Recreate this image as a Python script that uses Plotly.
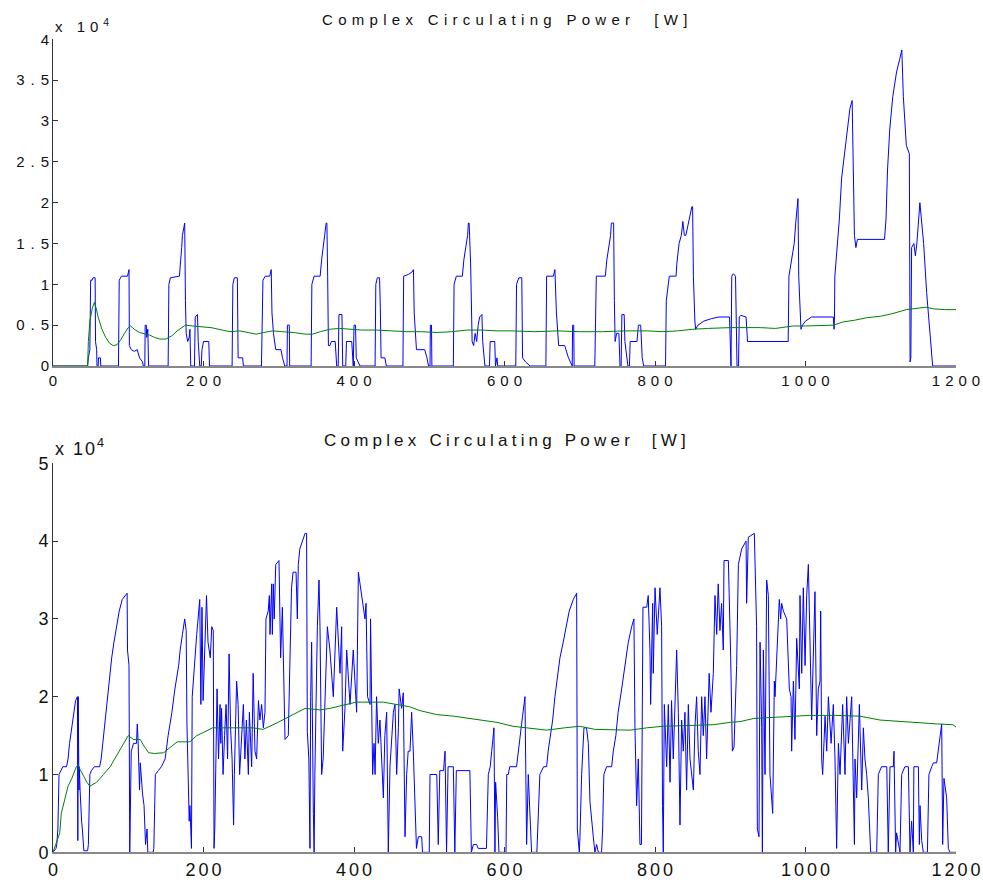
import plotly.graph_objects as go

# ---- data (power in units of 10^4 W, time in s) ----
top_power = [(0,0),(46,0),(47,0.1),(49,0.2),(50,1.05),(52,1.05),(53,1.08),(56,1.08),(56.5,0.3),(58,0.2),(58.5,0),(60,0),(60.5,0.1),(63,0.1),(63.5,0),
 (87,0),(88,1.05),(91,1.1),(99,1.1),(101,1.18),(101.5,0.25),(104,0.2),(108,0.18),(112,0.2),(115,0.1),(119,0.05),(120,0),(122,0),(122.5,0.5),(124,0.5),(124.5,0.35),(126,0.45),(127,0),
 (153,0),(154,1.0),(156,1.08),(168,1.1),(170,1.3),(171,1.45),(172,1.6),(174,1.75),(175,1.75),(176,0.8),(177,0.4),(179,0.3),(181,0.35),(182,0.45),(183,0),(188,0),(189,0.6),(192,0.63),(193,0.3),(195,0),(197,0),(198,0.2),(200,0.3),(207,0.3),(208,0),
 (238,0),(239,1.0),(241,1.08),(245,1.08),(246,0.1),(252,0.1),(253,0),(277,0),(279,1.05),(282,1.1),(288,1.1),(290,1.18),(291,0.65),(293,0.4),(296,0.2),(303,0.2),(305,0.1),(308,0),(311,0),(311.5,0.5),(314,0.5),(314.5,0),
 (343,0),(344,1.0),(347,1.1),(355,1.1),(357,1.3),(359,1.5),(361,1.6),(363,1.75),(364,1.75),(365,1.1),(366,0.25),(368,0.25),(370,0.3),(375,0.3),(377,0),(379,0),(380,0.63),(384,0.63),(385,0),(389,0),(390,0.3),(397,0.3),(398,0),(399,0),(400,0.5),(402,0.5),(403,0.1),(408,0),
 (428,0),(429,1.0),(431,1.08),(434,1.08),(435,0.7),(436,0.1),(441,0.1),(443,0),(465,0),(466,1.1),(472,1.12),(477,1.15),(479,1.18),(480,0.65),(483,0.2),(494,0.2),(497,0.1),(499,0),(501,0),(501.5,0.5),(503,0.5),(503.5,0),
 (532,0),(533,1.0),(536,1.1),(544,1.1),(546,1.3),(549,1.45),(551,1.6),(552,1.75),(553,1.75),(555,1.25),(557,0.3),(559,0.25),(561,0.4),(563,0.3),(565,0.5),(567,0.6),(570,0.63),(571,0.3),(574,0),(580,0),(581,0.3),(587,0.3),(588,0),(590,0.1),(591,0),
 (615,0),(616,1.0),(619,1.08),(623,1.08),(624,0.1),(628,0.05),(634,0),(655,0),(656,1.1),(665,1.1),(667,1.18),(669,0.65),(672,0.25),(680,0.25),(685,0.1),(689,0),(690,0),(690.5,0.5),(692,0.5),(692.5,0),
 (720,0),(722,1.1),(734,1.1),(736,1.3),(739,1.5),(741,1.6),(742,1.75),(745,1.75),(746,0.8),(747,0.3),(749,0.4),(752,0.4),(753.5,0),(755,0),(756,0.63),(759,0.63),(760,0.3),(764,0),(766,0),(767,0.3),(776,0.3),(778,0.5),(781,0.5),(783,0.1),(785,0),
 (814,0),(815,0.8),(819,1.1),(828,1.1),(829,1.25),(832,1.5),(835,1.6),(837,1.77),(839,1.6),(841,1.6),(845,1.8),(849,1.95),(850,1.95),(851,1.1),(853,0.55),(854,0.45),(857,0.5),(865,0.55),(875,0.58),(885,0.6),(899,0.6),(900,0),(901,0),(902,1.1),(904,1.13),(907,1.1),(908,0.2),(909,0),(911,0),(912,0.6),(914,0.62),(921,0.6),(923,0.3),
 (977,0.3),(978,1.1),(982,1.3),(985,1.5),(987,1.75),(989,1.95),(990,2.05),(991,1.1),(994,0.45),(996,0.5),(1000,0.55),(1008,0.6),(1037,0.6),(1038,0.45),(1038.5,0.6),(1039,1.1),(1042,1.4),(1045,1.8),(1048,2.3),(1052,2.6),(1056,2.9),(1059,3.15),(1062,3.25),(1063,2.6),(1065,1.6),(1067,1.45),(1069,1.55),
 (1105,1.55),(1107,1.8),(1109,2.4),(1112,2.9),(1116,3.3),(1121,3.6),(1125,3.75),(1128,3.87),(1130,3.3),(1134,2.7),(1138,2.6),(1139,0.05),(1140,0.1),(1141,1.45),(1144,1.5),(1146,1.35),(1148,1.5),(1152,2.0),(1154,1.8),(1157,1.5),(1161,0.9),(1165,0.5),(1169,0),(1200,0)]

top_mean = [(0,0),(46,0),(47,0.3),(49,0.55),(52,0.7),(55,0.78),(57,0.72),(60,0.6),(65,0.45),(70,0.35),(75,0.28),(80,0.25),(85,0.26),(90,0.32),(95,0.4),(100,0.47),(103,0.49),(108,0.45),(115,0.41),(120,0.4),(128,0.38),(135,0.35),(142,0.33),(150,0.33),(158,0.37),(165,0.43),(172,0.48),(176,0.5),(185,0.49),(195,0.48),(210,0.47),(225,0.44),(235,0.42),(248,0.43),(260,0.41),(270,0.39),(280,0.41),(292,0.43),(305,0.42),(320,0.41),(335,0.39),(345,0.39),(355,0.42),(368,0.45),(381,0.46),(395,0.45),(410,0.44),(430,0.44),(450,0.43),(470,0.42),(490,0.42),(510,0.41),(530,0.42),(550,0.44),(570,0.44),(590,0.43),(610,0.43),(640,0.42),(670,0.43),(700,0.42),(730,0.42),(760,0.43),(790,0.43),(810,0.42),(830,0.43),(850,0.45),(870,0.46),(900,0.47),(940,0.47),(960,0.46),(984,0.49),(1000,0.49),(1037,0.5),(1050,0.54),(1065,0.56),(1081,0.59),(1100,0.61),(1115,0.64),(1134,0.69),(1150,0.71),(1160,0.72),(1170,0.7),(1185,0.69),(1200,0.69)]

bot_power = [(0,0),(4,0.05),(5,0.1),(6.5,0.3),(8,1.0),(11,1.05),(13,1.1),(18,1.1),(20,1.2),(22,1.4),(25,1.6),(27,1.75),(30,1.95),(32.5,2.0),(33,0.15),(33.5,2.0),(34.5,0.8),(35,1.1),(36,0.8),(37,0.5),(38,0.4),(39,0.3),(41,0.02),(46,0.02),(47,0.1),(49,1.0),(51,1.05),(55,1.1),(62,1.1),(64,1.2),(67,1.5),(70,1.8),(72,2.0),(76,2.3),(78,2.5),(81,2.7),(84,2.9),(88,3.1),(92,3.25),(98.5,3.33),(99,2.6),(101,2.4),(102,0),(102.5,0.6),(104,1.3),(107,1.4),(111,1.4),(112,1.65),(113,1.45),(115,0.8),(116,1.15),(119,0.75),(121,0.6),(123,0.1),(125,0.3),(126,0),(133,0),(134,0.05),
 (136,1.0),(140,1.05),(144,1.1),(149,1.2),(153,1.5),(158,1.8),(162,2.1),(167,2.4),(169,2.6),(172,2.8),(175,3.0),(177,2.85),(178,1.65),(181,0.4),(182,0.6),(184,0.05),(185,2.0),(191,2.8),(195,3.25),(196.5,1.9),(198,3.15),(199.5,1.95),(204,3.3),(206,2.7),(209,2.5),(211,2.9),(213,2.85),(214,0.05),(215,0.3),(218,2.1),(220,1.2),(222,1.9),(223,1.4),(224,1.85),(226,1.0),(228,1.5),(230,1.9),(232,1.2),(234,2.55),(236,1.6),(238,1.2),(240,0.35),(241,1.0),(244,2.2),(246,1.9),(248,1.0),
 (250.7,1.5),(253,1.9),(255,1.2),(257,1.7),(259.6,1.0),(261,1.8),(264,1.1),(266,2.3),(268.4,1.3),(270.6,1.2),(273,1.95),(275,1.7),(277.3,1.9),(279.5,1.6),(281.7,1.8),(283,3.0),(286,3.1),(287.5,3.3),(288.4,2.8),(290.6,3.45),(291.5,2.8),(292.8,3.45),(294,3.0),(296,3.7),(300.3,3.75),(302.5,2.5),(304.8,3.15),(307,1.8),(308.3,1.45),(312.7,1.5),(315,2.8),(317,3.4),(319,3.6),(323,3.6),(324.7,3.0),(326,3.7),(328,3.9),(331.8,4.0),(335,4.1),(337,4.1),(338,1.55),(340,1.2),(341.5,0.05),(342.4,2.0),(343.7,2.7),(346,0.5),(347,0),(348,1.0),(351.3,2.9),(353.5,3.5),(354.8,2.9),(357,1.0),(359,1.2),(364.6,2.9),(368,2.6),(372.5,2.0),(377,3.15),(381.4,2.3),(383.6,2.9),(385,1.3),(388,1.85),(390.3,2.6),(392.5,2.3),(394.7,1.9),(399,2.6),(403.5,1.8),(405.8,3.6),(410,3.3),(414.6,3.0),(416,3.2),(418,2.0),(421.3,1.9),(422,3.0),(424.8,1.0),(426.6,1.4),(428,1.0),(430,2.0),(432.3,1.4),(434.5,1.7),(439,0.7),(441,1.5),(443.4,1.8),(445.6,0),(447.8,1.1),(452.3,1.8),(454.5,1.9),(456.7,1.0),(459,1.6),(460,2.1),(463.3,1.85),(465.5,2.05),(467.8,0.2),(470,1.0),(472,1.3),(474.4,1.3),(476.6,1.8),(478.8,1.3),(483,0.05),(485.5,0.2),(490,0.2),(491,0),(500,0),(501,1.0),(510,1.0),(512,0.1),(514,1.05),(519,1.05),(521,1.3),(523,0),(525,1.1),(532,1.1),(534,0),(536,1.05),(554,1.05),(556,0),(558.6,0.1),(563,0.1),(565,0.05),(576,0.05),(578.5,1.0),(581,1.1),(583,1.3),(586,1.6),
 (587.3,0),(588.2,0.9),(590.9,0.45),(592.6,0),(602,0),(603,1.0),(605,1.0),(607,1.1),(616,1.1),(618.3,1.3),(621.4,1.6),(624,1.75),(627.2,2.0),(628.5,1.0),(629.4,0.1),(631.6,1.0),(633.8,0.5),(636,0),(643,0),(645,0.5),(647,1.0),(652,1.1),(656,1.1),(658,1.3),(661,1.5),(664,1.7),(667,2.0),(670,2.25),(673.7,2.5),(678,2.7),(681.7,2.9),(686,3.1),(691.4,3.25),(695.9,3.33),(696.8,0.3),(699.4,0),(700.3,0.2),(702.5,1.0),(705.6,1.6),(709,1.6),(711.4,1.4),(713.6,0.65),(718,0.2),(720.2,0),(722.4,0.1),(724.7,0),(729,0),(730.4,0.3),(732,1.0),(735.7,1.1),(742.4,1.1),(744.6,1.3),(748,1.5),(751,1.8),(755.7,2.1),(760,2.4),(764.5,2.7),(769,2.9),(772,3.0),(773.4,1.6),(775.6,0.6),(777.8,1.2),(780,0.1),(782,0.1),(783,3.0),(784,3.15),(789,3.15),(791,3.3),(793.3,2.6),(794.2,1.9),(796.9,3.2),(797.7,2.3),(800,3.4),(803,2.8),(806.6,3.4),(808.8,2.9),(810,0.6),(811,0),
 (812.4,1.9),(815.5,1.1),(817.7,1.9),(820,0.9),(822,1.95),(824.3,1.2),(828.8,2.6),(831,1.8),(833.2,0.35),(835.4,1.7),(837.6,1.3),(839.8,1.8),(842,0.8),(844.3,1.9),(846.5,1.2),(851,0.8),(853,1.6),(855.3,2.0),(857.5,1.3),(859.8,1.0),(862,2.0),(864.2,1.5),(866.4,2.0),(868.6,1.2),(872,2.3),(874.4,1.8),(877.5,2.3),(878.8,3.0),(879.7,3.3),(882,2.8),(884,3.45),(886.3,2.85),(888.5,3.2),(890.7,2.6),(891.7,3.75),(897.5,3.75),(899.7,3.0),(900.6,2.5),(902.8,1.3),(905,1.35),(908.5,2.4),(910.8,3.7),(915.2,3.9),(921,4.0),(921.8,3.2),(924,4.05),(932,4.1),(935,2.9),(936,0.3),(938.2,0.2),(939.6,2.7),(941.8,1.6),(942.7,0),(944,2.6),(946.2,1.0),(948.4,3.5),(950.6,3.3),(952.8,1.0),(956.4,0.5),(958.6,2.2),(959.5,2.0),(962.6,2.7),(965.2,3.25),(967,3.0),(968.3,3.2),(970.6,3.1),(975,3.0),(978.5,2.1),(980.8,2.0),(981.6,1.3),(983.9,2.2),(986,1.45),(988.3,2.75),(991.8,2.1),(992.7,3.3),(995,2.3),(997.1,3.4),(999.4,2.4),(1001.6,3.3),(1003.8,3.7),(1006,2.5),(1008.2,1.7),(1012.6,3.35),(1014.9,1.5),(1017,2.1),(1019.3,2.2),(1020.2,3.1),(1021.5,1.2),(1022.8,1.0),(1026,1.75),(1028.2,1.3),(1030.4,2.0),(1034,1.4),(1037,1.9),(1039.2,1.2),(1041.4,0.05),(1043.7,1.4),(1045.9,1.0),(1049.4,1.9),(1052.5,1.0),(1054.7,2.0),(1057,1.4),(1061.4,2.0),(1065,0.1),(1065.8,1.2),(1068,0.7),(1071.6,1.9),(1074.7,0.8),(1076.9,1.6),(1079,1.2),(1081.3,1.0),(1083.5,0.7),(1086.6,0),(1094.6,0),(1096.8,1.0),(1101,1.1),(1108,1.1),(1110,0),(1112.3,1.1),(1116.7,1.1),(1117.6,1.3),(1119.8,0),(1121,0.25),(1125.6,0),(1127.8,1.0),(1132,1.1),(1136.7,1.1),(1138.9,0),(1141,0.4),(1143.3,0),(1144,1.1),(1150,1.1),(1151.3,0.1),(1152.2,0.6),(1154.4,0.15),(1156.6,0),(1162,0),(1164,1.0),(1167.7,1.1),(1170,1.15),(1174.3,1.15),(1176.5,1.3),(1178.8,1.5),(1181,1.65),(1182.3,0.1),(1184,0.95),(1187.6,0.7),(1189.8,0.05),(1192,0),(1200,0)]

bot_mean = [(0,0),(4,0.1),(9,0.25),(11,0.5),(16,0.7),(20,0.85),(25,0.95),(31,1.1),(33,1.12),(35,1.08),(40,1.0),(45,0.9),(49,0.85),(58,0.9),(67,1.0),(76,1.1),(85,1.25),(94,1.4),(100,1.5),(107,1.45),(116,1.45),(120,1.38),(127,1.28),(135,1.27),(147,1.28),(156,1.35),(165,1.42),(182,1.42),(191,1.5),(202,1.55),(212,1.6),(240,1.6),(266,1.6),(279,1.58),(295,1.65),(315,1.75),(335,1.85),(355,1.83),(368,1.85),(381,1.88),(403,1.93),(439,1.93),(457,1.9),(474,1.87),(488,1.82),(510,1.77),(532,1.75),(567,1.7),(590,1.67),(611,1.62),(656,1.57),(680,1.6),(700,1.62),(720,1.58),(745,1.57),(767,1.57),(789,1.6),(811,1.62),(845,1.63),(877,1.64),(900,1.67),(913,1.68),(931,1.72),(975,1.74),(1006,1.76),(1040,1.76),(1072,1.75),(1099,1.7),(1125,1.68),(1152,1.66),(1175,1.65),(1196,1.64),(1200,1.61)]

x_ticks = [0, 200, 400, 600, 800, 1000, 1200]
top_y_ticks = [0, 0.5, 1, 1.5, 2, 2.5, 3, 3.5, 4]
bot_y_ticks = [0, 1, 2, 3, 4, 5]
title_text = "Complex Circulating Power  [W]"

BLUE = "#0000ff"
GREEN = "#008000"
FONT = "Liberation Sans, Arial, sans-serif"

W, H = 983, 880
ML, MR = 53, 27


def xs(p): return [a for a, b in p]
def ys(p): return [b for a, b in p]


def spaced(t, sp):
    if len(t) < 2 or sp == 0:
        return t
    return f'<span style="letter-spacing:{sp}px">{t[:-1]}</span>{t[-1]}'


def fmt(v):
    return str(int(v)) if float(v).is_integer() else str(v)


def py(page_y):
    return 1 - page_y / H


fig = go.Figure()
fig.add_trace(go.Scatter(x=xs(top_power), y=ys(top_power), mode="lines", line=dict(color=BLUE, width=1), xaxis="x", yaxis="y"))
fig.add_trace(go.Scatter(x=xs(top_mean), y=ys(top_mean), mode="lines", line=dict(color=GREEN, width=1), xaxis="x", yaxis="y"))
fig.add_trace(go.Scatter(x=xs(bot_power), y=ys(bot_power), mode="lines", line=dict(color=BLUE, width=1), xaxis="x2", yaxis="y2"))
fig.add_trace(go.Scatter(x=xs(bot_mean), y=ys(bot_mean), mode="lines", line=dict(color=GREEN, width=1), xaxis="x2", yaxis="y2"))

common = dict(showgrid=False, zeroline=False, showline=True, ticks="inside", ticklen=5,
              tickcolor="#333", automargin=False)
fig.update_layout(
    width=W, height=H, margin=dict(l=ML, r=MR, t=0, b=0, autoexpand=False),
    plot_bgcolor="white", paper_bgcolor="white", showlegend=False,
    xaxis=dict(domain=[0, 1], range=[0, 1200], anchor="y", tickvals=x_ticks,
               ticktext=[spaced(fmt(v), 5) for v in x_ticks], linecolor="#888", linewidth=2,
               tickfont=dict(family=FONT, size=15, color="#111"), **common),
    yaxis=dict(domain=[py(366), py(39.3)], range=[0, 4], anchor="x", tickvals=top_y_ticks,
               ticktext=[spaced(fmt(v), 6) for v in top_y_ticks], linecolor="#333", linewidth=1,
               tickfont=dict(family=FONT, size=15, color="#111"), **common),
    xaxis2=dict(domain=[0, 1], range=[0, 1200], anchor="y2", tickvals=x_ticks,
                ticktext=[spaced(fmt(v), 3) for v in x_ticks], linecolor="#888", linewidth=2,
                tickfont=dict(family=FONT, size=18, color="#111"), **common),
    yaxis2=dict(domain=[py(852.3), py(463.3)], range=[0, 5], anchor="x2", tickvals=bot_y_ticks,
                ticktext=[fmt(v) for v in bot_y_ticks], linecolor="#333", linewidth=1,
                tickfont=dict(family=FONT, size=18, color="#111"), **common),
)

fig.add_annotation(x=0.5, y=py(19), xref="paper", yref="paper", showarrow=False,
                   text=spaced(title_text, 5.3), font=dict(family=FONT, size=15, color="#111"), yanchor="middle")
fig.add_annotation(x=0.5, y=py(440), xref="paper", yref="paper", showarrow=False,
                   text=spaced(title_text, 4.2), font=dict(family=FONT, size=17, color="#111"), yanchor="middle")
fig.add_annotation(x=0, y=py(25), xref="paper", yref="paper", showarrow=False, xanchor="left",
                   text='<span style="letter-spacing:5px">x 10</span><sup>4</sup>',
                   font=dict(family=FONT, size=15, color="#111"), yanchor="middle")
fig.add_annotation(x=0, y=py(447), xref="paper", yref="paper", showarrow=False, xanchor="left",
                   text='<span style="letter-spacing:2px">x 10</span><sup>4</sup>',
                   font=dict(family=FONT, size=18, color="#111"), yanchor="middle")

# the page's default 8px body margin is removed so the 983x880 figure fills the window
fig.write_html("out.html", config={"displayModeBar": False},
               post_script="document.body.style.margin='0';")
